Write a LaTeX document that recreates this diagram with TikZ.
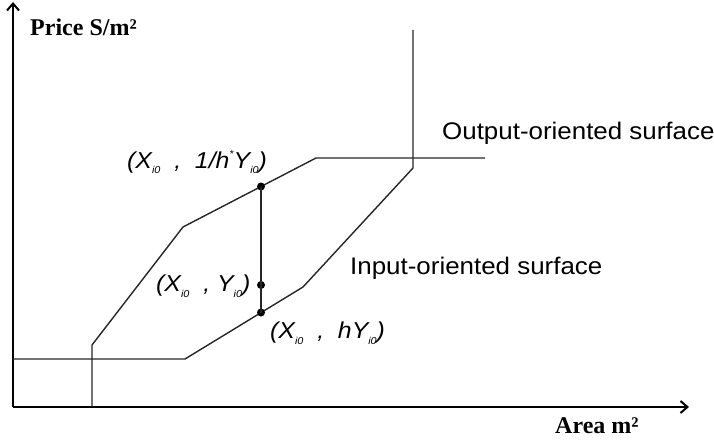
\documentclass[tikz,border=0pt]{standalone}
\usepackage{fontspec}
\setmainfont{Liberation Serif}
\setsansfont{Liberation Sans}[FakeStretch=1.08]
\usetikzlibrary{arrows.meta}
\newcommand{\sbi}{\raisebox{-0.45ex}{\fontsize{10}{10}\selectfont\itshape i0}}
\newcommand{\spr}{\raisebox{0.9ex}{\fontsize{10}{10}\selectfont *}}
\begin{document}
\begin{tikzpicture}[x=1pt,y=-1pt,
  axis/.style={line width=2pt, -{Straight Barb[length=7pt,width=12pt,line width=2pt]}},
  surf/.style={line width=1.4pt, black!85},
  lab/.style={font=\sffamily\itshape\fontsize{23}{23}\selectfont, inner sep=0pt},
  ttl/.style={font=\sffamily\fontsize{24}{24}\selectfont, inner sep=0pt},
  axl/.style={font=\rmfamily\bfseries\fontsize{24}{24}\selectfont, inner sep=0pt},
  dot/.style={circle, fill=black, inner sep=0pt, minimum size=8pt}]
\useasboundingbox (0,0) rectangle (714,441);
% axes
\coordinate (O) at (13,407);
\coordinate (ytip) at (13,2);
\coordinate (xtip) at (689,407);
\draw[axis] (O) -- (ytip);
\draw[axis] (O) -- (xtip);
\node[axl, anchor=west] (ylab) at (30,27) {Price S/m²};
\node[axl, anchor=west] (xlab) at (555,426) {Area m²};
% output-oriented surface
\coordinate (o0) at (92,407);
\coordinate (o1) at (92,345);
\coordinate (o2) at (183,227);
\coordinate (o3) at (316,158);
\coordinate (o4) at (485,158);
\draw[surf] (o0) -- (o1) -- (o2) -- (o3) -- (o4);
% input-oriented surface
\coordinate (i0) at (13,359);
\coordinate (i1) at (185,359);
\coordinate (i2) at (303,287);
\coordinate (i3) at (413,168);
\coordinate (i4) at (413,30);
\draw[surf] (i0) -- (i1) -- (i2) -- (i3) -- (i4);
% points
\node[dot] (pu) at (261,186.5) {};
\node[dot] (pm) at (261,285) {};
\node[dot] (pd) at (261,312.5) {};
\draw[surf] (pu.center) -- (pd.center);
% labels
\node[lab, anchor=west] (lu) at (127,162) {(X\sbi\ \ ,\ \ 1/h\spr Y\sbi)};
\node[lab, anchor=west] (lm) at (156,286) {(X\sbi\ \ ,\ Y\sbi)};
\node[lab, anchor=west] (ll) at (270,333) {(X\sbi\ \ ,\ \ hY\sbi)};
\node[ttl, anchor=west] (to) at (442,133) {Output-oriented surface};
\node[ttl, anchor=west] (ti) at (350,268) {Input-oriented surface};
\end{tikzpicture}
\end{document}
